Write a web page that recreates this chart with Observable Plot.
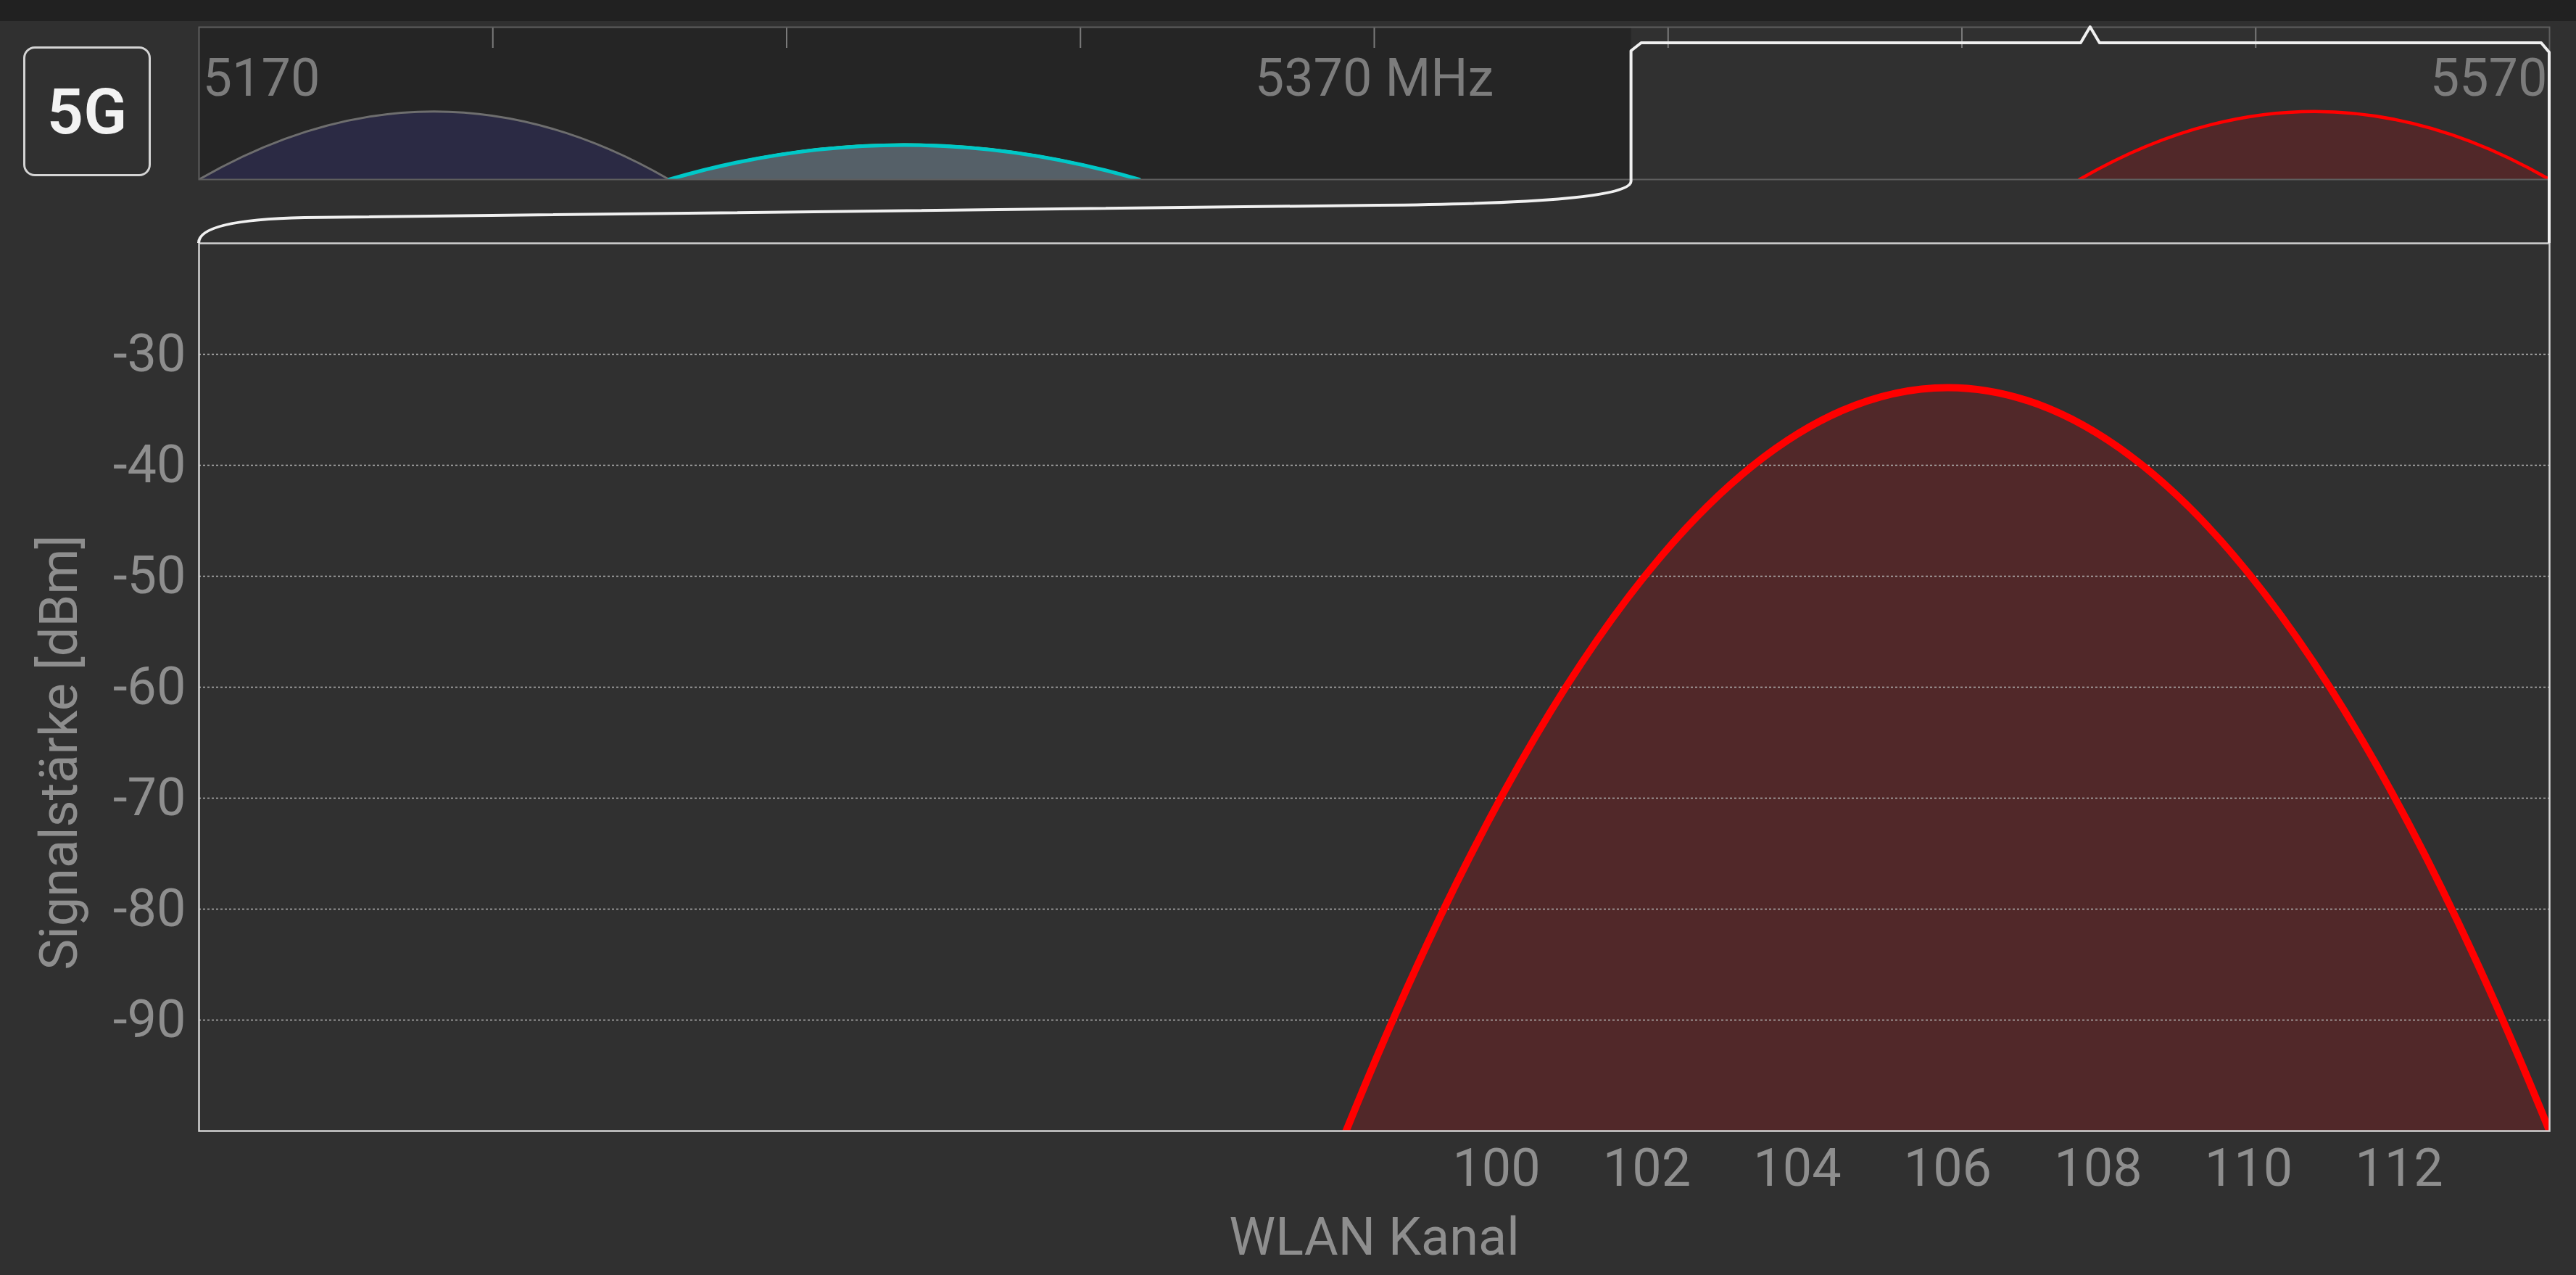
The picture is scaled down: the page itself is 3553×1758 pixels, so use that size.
<!DOCTYPE html>
<html>
<head>
<meta charset="utf-8">
<script src="https://cdn.jsdelivr.net/npm/d3@7"></script>
<script src="https://cdn.jsdelivr.net/npm/@observablehq/plot@0.6"></script>
<style>
  html, body { margin: 0; padding: 0; background: #303030; }
  #root { position: relative; width: 3553px; height: 1758px; background: #303030; overflow: hidden; font-family: Roboto, sans-serif; }
  #topbar { position: absolute; left: 0; top: 0; width: 3553px; height: 29px; background: #212121; }
  #badge { position: absolute; left: 32px; top: 64px; width: 170px; height: 173px; border: 3px solid #d4d4d4; border-radius: 16px;
           display: flex; align-items: center; justify-content: center; color: #f2f2f2; font: 600 88px Roboto, sans-serif; }
  .layer { position: absolute; left: 0; top: 0; }
  .layer svg { display: block; max-width: none; }
</style>
</head>
<body>
<div id="root">
  <div id="topbar"></div>
  <div id="badge">5G</div>
  <div id="ov" class="layer"></div>
  <div id="main" class="layer"></div>
  <div id="overlay" class="layer"></div>
</div>
<script>
// ---------- data ----------
const ovFreqDomain   = [5170, 5570];          // MHz, overview strip
const zoomWindowMHz  = [5413.75, 5570];       // MHz, part shown in the main chart
const ovTickFreqs    = [5220, 5270, 5320, 5370, 5420, 5470, 5520];
const ovLabelFreqs   = [5170, 5370, 5570];
const ovLabelTexts   = ["5170", "5370 MHz", "5570"];
const channelTicks   = [100, 102, 104, 106, 108, 110, 112];
const dbmTicks       = [-30, -40, -50, -60, -70, -80, -90];
const dbmDomain      = [-100, -20];
const ovDbmDomain    = [-100, 50];

// networks (channel centre, bandwidth MHz, signal dBm, colours)
const netChannel = [42, 58, 58, 58, 106];
const netWidth   = [80, 80, 80, 80, 80];
const netSignal  = [-33, -65.3, -65.6, -66, -33];
const netStroke  = ["#6e6e6e", "#2fd12f", "#c07ad0", "#00c8c8", "#ff0000"];
const netFill    = ["#2b2a44", "#556068", "#556068", "#556068", "#512829"];
const netOvWidth = [3, 3, 3, 5, 4.5];

const W = 3553, H = 1758;
const chToMHz = ch => 5000 + 5 * ch;
const mhzToCh = f => (f - 5000) / 5;

// three support points per network: band start, centre (peak), band end
const pts = netChannel.flatMap((c, i) => {
  const half = netWidth[i] / 10;
  return [
    {net: i, ch: c - half, dbm: -100, base: -100, fill: netFill[i], stroke: netStroke[i]},
    {net: i, ch: c,        dbm: netSignal[i], base: -100, fill: netFill[i], stroke: netStroke[i]},
    {net: i, ch: c + half, dbm: -100, base: -100, fill: netFill[i], stroke: netStroke[i]}
  ];
});

// curve: quadratic arc through start, peak, end
function quadPeak(context) {
  return {
    _line: NaN,
    areaStart() { this._line = 0; },
    areaEnd() { this._line = NaN; },
    lineStart() { this._pts = []; },
    point(x, y) { this._pts.push([+x, +y]); },
    lineEnd() {
      const p = this._pts;
      if (p.length) {
        if (this._line) context.lineTo(p[0][0], p[0][1]); else context.moveTo(p[0][0], p[0][1]);
        if (p.length === 3) {
          const cx = 2 * p[1][0] - (p[0][0] + p[2][0]) / 2;
          const cy = 2 * p[1][1] - (p[0][1] + p[2][1]) / 2;
          context.quadraticCurveTo(cx, cy, p[2][0], p[2][1]);
        } else {
          for (let k = 1; k < p.length; ++k) context.lineTo(p[k][0], p[k][1]);
        }
      }
      if (this._line || (this._line !== 0 && p.length === 1)) context.closePath();
      this._line = 1 - this._line;
    }
  };
}

const baseStyle = {background: "transparent", color: "#8e8e8e", fontFamily: "Roboto, sans-serif", fontSize: "72px", overflow: "visible"};

// ---------- overview strip ----------
const ov = Plot.plot({
  width: W, height: 280,
  marginTop: 37, marginBottom: 33, marginLeft: 274, marginRight: 37,
  style: baseStyle,
  x: {domain: ovFreqDomain, axis: null},
  y: {domain: ovDbmDomain, axis: null},
  color: {type: "identity"},
  marks: [
    Plot.rect([{x1: ovFreqDomain[0], x2: zoomWindowMHz[0]}], {x1: "x1", x2: "x2", fill: "#252525"}),
    Plot.area(pts, {x1: d => chToMHz(d.ch), y1: "base", y2: "dbm", z: "net", fill: "fill", curve: quadPeak, clip: true}),
    ...netChannel.map((c, i) =>
      Plot.line(pts.filter(d => d.net === i), {x: d => chToMHz(d.ch), y: "dbm", stroke: "stroke", strokeWidth: netOvWidth[i], curve: quadPeak, clip: true})),
    Plot.ruleX(ovTickFreqs, {stroke: "#7a7a7a", strokeWidth: 2, insetBottom: 181}),
    Plot.text([0], {x: () => ovLabelFreqs[0], text: () => ovLabelTexts[0], frameAnchor: "top", dy: 43, dx: 5, textAnchor: "start", fill: "#7c7c7c", fontSize: 72}),
    Plot.text([1], {x: () => ovLabelFreqs[1], text: () => ovLabelTexts[1], frameAnchor: "top", dy: 43, textAnchor: "middle", fill: "#7c7c7c", fontSize: 72}),
    Plot.text([2], {x: () => ovLabelFreqs[2], text: () => ovLabelTexts[2], frameAnchor: "top", dy: 43, dx: -3, textAnchor: "end", fill: "#7c7c7c", fontSize: 72}),
    Plot.frame({stroke: "#5e5e5e", strokeWidth: 2})
  ]
});
document.getElementById("ov").appendChild(ov);

// ---------- main chart ----------
const main = Plot.plot({
  width: W, height: H,
  marginTop: 335, marginBottom: 199, marginLeft: 274, marginRight: 37,
  style: baseStyle,
  x: {domain: zoomWindowMHz.map(mhzToCh)},
  y: {domain: dbmDomain},
  color: {type: "identity"},
  marks: [
    Plot.area(pts, {x1: "ch", y1: "base", y2: "dbm", z: "net", fill: "fill", curve: quadPeak, clip: true}),
    Plot.ruleY(dbmTicks, {stroke: "#b4b4b4", strokeWidth: 1.5, strokeDasharray: "3,3"}),
    Plot.line(pts, {x: "ch", y: "dbm", z: "net", stroke: "stroke", strokeWidth: 10, curve: quadPeak, clip: true}),
    Plot.axisX({ticks: channelTicks, tickSize: 0, tickPadding: 24, fontSize: 72, fill: "#8e8e8e", label: null}),
    Plot.axisY({ticks: dbmTicks, tickFormat: d => String(d), tickSize: 0, tickPadding: 18, fontSize: 72, fill: "#8e8e8e", label: null}),
    Plot.text(["WLAN Kanal"], {text: d => d, frameAnchor: "bottom", dy: 170, fontSize: 72, fill: "#8e8e8e"}),
    Plot.text(["Signalstärke [dBm]"], {text: d => d, frameAnchor: "left", textAnchor: "middle", dx: -192, dy: 90, rotate: -90, fontSize: 72, fill: "#8e8e8e"}),
    Plot.frame({stroke: "#d2d2d2", strokeWidth: 2.5})
  ]
});
document.getElementById("main").appendChild(main);

// ---------- zoom bracket connecting overview and main chart ----------
const ox = ov.scale("x"), oy = ov.scale("y");
const mxr = main.scale("x").range, myr = main.scale("y").range;
const xL = ox.apply(zoomWindowMHz[0]);
const xR = ox.apply(zoomWindowMHz[1]);
const xC = ox.apply((zoomWindowMHz[0] + zoomWindowMHz[1]) / 2);
const ovTop = Math.min(...oy.range), ovBottom = Math.max(...oy.range);
const mLeft = Math.min(...mxr), mTop = Math.min(...myr);
const p = d3.path();
p.moveTo(mLeft, mTop);
p.quadraticCurveTo(mLeft, mTop - 32, mLeft + 146, mTop - 35);
p.quadraticCurveTo(mLeft + 640, mTop - 43, xL - 350, mTop - 52);
p.quadraticCurveTo(xL, mTop - 55, xL, ovBottom + 3);
p.lineTo(xL, ovTop + 33);
p.lineTo(xL + 14, ovTop + 22);
p.lineTo(xC - 13, ovTop + 22);
p.lineTo(xC, ovTop);
p.lineTo(xC + 13, ovTop + 22);
p.lineTo(xR - 11, ovTop + 22);
p.lineTo(xR, ovTop + 35);
p.lineTo(xR, mTop);
const overlay = d3.create("svg").attr("width", W).attr("height", H);
overlay.append("path").attr("d", p.toString()).attr("fill", "none")
  .attr("stroke", "#f0f0f0").attr("stroke-width", 4).attr("stroke-linejoin", "round");
document.getElementById("overlay").appendChild(overlay.node());
</script>
</body>
</html>
